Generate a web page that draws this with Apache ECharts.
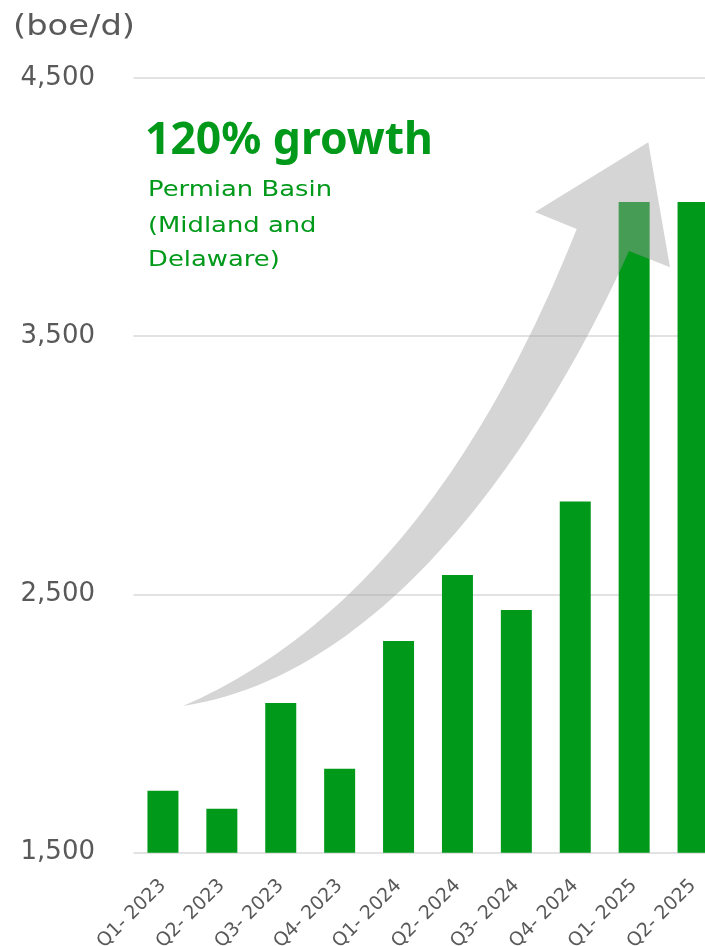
<!DOCTYPE html>
<html>
<head>
<meta charset="utf-8">
<script src="https://cdn.jsdelivr.net/npm/echarts@6/dist/echarts.min.js"></script>
<style>
html,body{margin:0;padding:0;background:#ffffff;}
#chart{width:705px;height:946px;}
</style>
</head>
<body>
<div id="chart"></div>
<script>
// ---- data ----
const categories = ['Q1- 2023','Q2- 2023','Q3- 2023','Q4- 2023','Q1- 2024','Q2- 2024','Q3- 2024','Q4- 2024','Q1- 2025','Q2- 2025'];
const production = [1740, 1670, 2080, 1825, 2320, 2575, 2440, 2860, 4020, 4020];
const yTicks = [1500, 2500, 3500, 4500];
const unitLabel = '(boe/d)';
const growthTitle = '120% growth';
const growthNote = ['Permian Basin', '(Midland and', 'Delaware)'];

// ---- styling ----
const GREEN = '#00991A';
const GRAY = '#595959';
const GRID = '#D9D9D9';

const mctx = document.createElement('canvas').getContext('2d');
function textWidth(text, font) { mctx.font = font; return mctx.measureText(text).width; }

// decorative growth arrow: two cubic Bezier edges plus a head
function cubic(p0, p1, p2, p3, steps) {
  const out = [];
  for (let s = 0; s <= steps; s++) {
    const t = s / steps, u = 1 - t;
    const a = u * u * u, b = 3 * u * u * t, c = 3 * u * t * t, d = t * t * t;
    out.push([a * p0[0] + b * p1[0] + c * p2[0] + d * p3[0], a * p0[1] + b * p1[1] + c * p2[1] + d * p3[1]]);
  }
  return out;
}
const upperEdge = cubic([183,706], [363,628], [487,454], [576.7,229], 60);
const lowerEdge = cubic([629,251], [560,405], [405,672], [183,706], 60);
const head = [[535,212],[648.3,142.3],[670,267.3]];
const arrowPts = upperEdge.concat(head, lowerEdge);

const titleFont = 'bold 45px "Noto Sans"';
const noteFont = '22px "DejaVu Sans"';
const unitFont = '29px "DejaVu Sans"';
const titleScale = 288 / textWidth(growthTitle, titleFont);
const noteScale = 184 / textWidth(growthNote[0], noteFont);
const unitScale = 122 / textWidth(unitLabel, unitFont);

const chart = echarts.init(document.getElementById('chart'), null, { renderer: 'canvas' });
const noteMiddles = [190.7, 226.2, 260.2];

chart.setOption({
  animation: false,
  backgroundColor: '#ffffff',
  grid: { left: 133.5, top: 78, width: 589, height: 774.7, outerBoundsMode: 'none' },
  xAxis: {
    type: 'category',
    data: categories,
    axisLine: { show: false },
    axisTick: { show: false },
    axisLabel: { rotate: 45, margin: 30, color: GRAY, fontFamily: 'DejaVu Sans', fontSize: 19, interval: 0 }
  },
  yAxis: {
    type: 'value',
    min: yTicks[0],
    max: yTicks[yTicks.length - 1],
    interval: yTicks[1] - yTicks[0],
    axisLine: { show: false },
    axisTick: { show: false },
    splitLine: { lineStyle: { color: GRID, width: 1.5 } },
    axisLabel: {
      margin: 38.5, color: GRAY, fontFamily: 'DejaVu Sans', fontSize: 26,
      formatter: v => v.toLocaleString('en-US')
    }
  },
  series: [{
    type: 'bar',
    data: production,
    barWidth: 31,
    itemStyle: { color: GREEN },
    z: 2
  }],
  graphic: [
    { type: 'polygon', z: 100, shape: { points: arrowPts }, style: { fill: 'rgba(160,160,160,0.44)' } },
    { type: 'text', x: 13, y: 27.5, scaleX: unitScale, z: 100,
      style: { text: unitLabel, font: unitFont, fill: GRAY, align: 'left', verticalAlign: 'middle' } },
    { type: 'text', x: 145, y: 141.5, scaleX: titleScale, z: 100,
      style: { text: growthTitle, font: titleFont, fill: GREEN, align: 'left', verticalAlign: 'middle' } }
  ].concat(growthNote.map((line, i) => ({
    type: 'text', x: 148, y: noteMiddles[i], scaleX: noteScale, z: 100,
    style: { text: line, font: noteFont, fill: GREEN, align: 'left', verticalAlign: 'middle' }
  })))
});
</script>
</body>
</html>
